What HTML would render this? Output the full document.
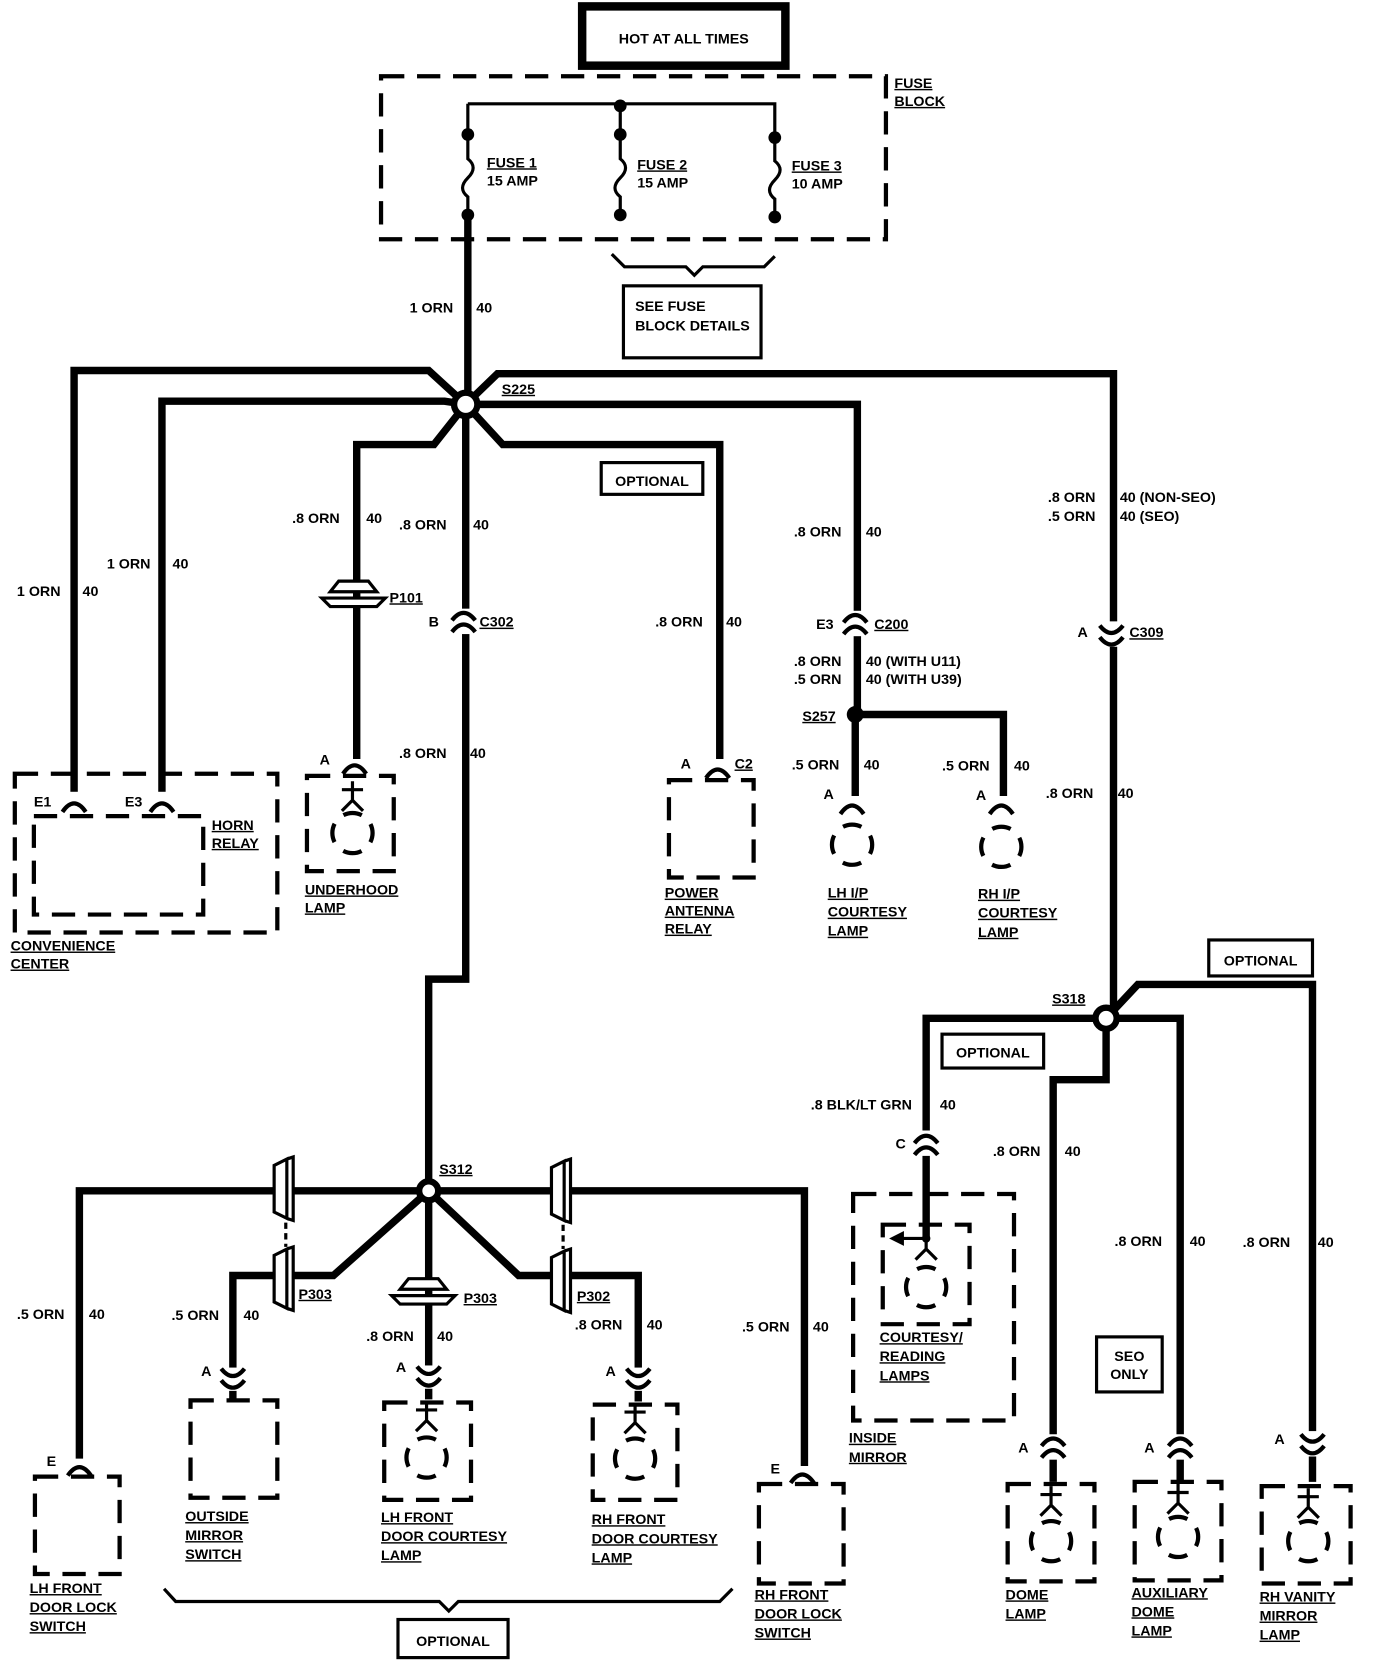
<!DOCTYPE html>
<html><head><meta charset="utf-8"><style>
html,body{margin:0;padding:0;background:#fff;}
svg{display:block;}
text{font-family:"Liberation Sans",sans-serif;font-weight:bold;font-size:13.5px;fill:#000;}
.u{text-decoration:underline;}
.w{fill:none;stroke:#000;stroke-width:7;stroke-linejoin:miter;}
.t{fill:none;stroke:#000;stroke-width:3;}
.d{fill:none;stroke:#000;stroke-width:4;stroke-dasharray:22 12;}
.c{fill:none;stroke:#000;stroke-width:4;}
</style></head><body>
<svg width="1376" height="1664" viewBox="0 0 1300 1572" xmlns="http://www.w3.org/2000/svg">
<defs>
<g id="fc"><path class="c" d="M-11,9 Q0,-7 11,9"/></g>
<g id="ic"><path class="c" d="M-11,-2 Q0,-16 11,-2"/><path class="c" d="M-11,9 Q0,-5 11,9"/></g>
<g id="icd"><path class="c" d="M-11,-9 Q0,5 11,-9"/><path class="c" d="M-11,2 Q0,16 11,2"/></g>
<g id="bulb"><circle r="19" fill="none" stroke="#000" stroke-width="4" stroke-dasharray="18 11.85" stroke-dashoffset="9"/></g>
<g id="pin"><path class="t" d="M0,-14 V4 M-10,-6 H10 M-10,14 L0,4 L10,14"/></g>
<g id="vp"><path fill="#fff" stroke="#000" stroke-width="3" d="M-6,-22 L6,-28 V28 L-6,22 Z M6,-28 L12,-30 V30 L6,28"/></g>
<g id="hp"><path fill="#fff" stroke="#000" stroke-width="3" d="M-22,-4 L-14,-14 H14 L22,-4 Z M-30,2 H30 L22,10 H-22 Z"/></g>
</defs>

<rect x="550" y="6" width="192" height="56" fill="none" stroke="#000" stroke-width="8"/>
<text x="646" y="41" text-anchor="middle">HOT AT ALL TIMES</text>

<rect x="360" y="72" width="477" height="154" class="d"/>
<text x="845" y="83" class="u">FUSE</text><text x="845" y="100" class="u">BLOCK</text>
<path class="t" d="M442,98 H732 V130 M442,98 V127 M586,98 V127"/>
<circle cx="586" cy="100" r="6"/><circle cx="442" cy="127" r="6"/><circle cx="586" cy="127" r="6"/><circle cx="732" cy="130" r="6"/>
<circle cx="442" cy="203" r="6"/><circle cx="586" cy="203" r="6"/><circle cx="732" cy="205" r="6"/>
<path class="t" d="M442,127 V150 Q452,158 442,168 Q432,178 442,186 V203"/>
<path class="t" d="M586,127 V150 Q596,158 586,168 Q576,178 586,186 V203"/>
<path class="t" d="M732,130 V152 Q742,160 732,170 Q722,180 732,188 V205"/>
<text x="460" y="158" class="u">FUSE 1</text><text x="460" y="175">15 AMP</text>
<text x="602" y="160" class="u">FUSE 2</text><text x="602" y="177">15 AMP</text>
<text x="748" y="161" class="u">FUSE 3</text><text x="748" y="178">10 AMP</text>
<path class="t" d="M578,240 L590,252 H648 L656,260 L664,252 H722 L732,242"/>
<rect x="589" y="270" width="130" height="68" fill="none" stroke="#000" stroke-width="3"/>
<text x="600" y="294">SEE FUSE</text><text x="600" y="312">BLOCK DETAILS</text>

<path class="w" d="M442,203 V382"/>
<text x="387" y="295">1 ORN</text><text x="450" y="295">40</text>

<path class="w" d="M440,382 L405,350 H70 V752"/>
<path class="w" d="M440,382 L420,379 H153 V752"/>
<path class="w" d="M440,382 L410,420 H337 V717"/>
<path class="w" d="M440,382 V925 H405 V1125"/>
<path class="w" d="M440,382 L475,420 H680 V717"/>
<path class="w" d="M440,382 H810 V675 M808,675 V752"/>
<path class="w" d="M808,675 H948 V752"/>
<path class="w" d="M440,382 L470,353 H1052 V962"/>
<circle cx="440" cy="382" r="11" fill="#fff" stroke="#000" stroke-width="6"/>
<text x="474" y="372" class="u">S225</text>

<text x="16" y="563">1 ORN</text><text x="78" y="563">40</text>
<text x="101" y="537">1 ORN</text><text x="163" y="537">40</text>
<text x="276" y="494">.8 ORN</text><text x="346" y="494">40</text>
<text x="377" y="500">.8 ORN</text><text x="447" y="500">40</text>
<text x="619" y="592">.8 ORN</text><text x="686" y="592">40</text>
<text x="750" y="507">.8 ORN</text><text x="818" y="507">40</text>
<text x="990" y="474">.8 ORN</text><text x="1058" y="474">40 (NON-SEO)</text>
<text x="990" y="492">.5 ORN</text><text x="1058" y="492">40 (SEO)</text>

<rect x="568" y="437" width="96" height="30" fill="none" stroke="#000" stroke-width="3"/>
<text x="616" y="459" text-anchor="middle">OPTIONAL</text>

<use href="#hp" x="334" y="563"/>
<text x="368" y="569" class="u">P101</text>
<rect x="428" y="575" width="22" height="24" fill="#fff"/>
<use href="#ic" x="438" y="588"/>
<text x="405" y="592">B</text><text x="453" y="592" class="u">C302</text>
<rect x="798" y="577" width="24" height="24" fill="#fff"/>
<use href="#ic" x="808" y="590"/>
<text x="771" y="594">E3</text><text x="826" y="594" class="u">C200</text>
<text x="750" y="629">.8 ORN</text><text x="818" y="629">40 (WITH U11)</text>
<text x="750" y="646">.5 ORN</text><text x="818" y="646">40 (WITH U39)</text>
<circle cx="808" cy="675" r="8"/>
<text x="758" y="681" class="u">S257</text>
<rect x="1040" y="587" width="24" height="24" fill="#fff"/>
<use href="#icd" x="1050" y="600"/>
<text x="1018" y="602">A</text><text x="1067" y="602" class="u">C309</text>

<rect x="14" y="731" width="248" height="150" class="d"/>
<rect x="32" y="771" width="160" height="93" class="d"/>
<rect x="62" y="748" width="18" height="14" fill="#fff"/><rect x="145" y="748" width="18" height="14" fill="#fff"/>
<use href="#fc" x="70" y="758"/><use href="#fc" x="153" y="758"/>
<text x="32" y="762">E1</text><text x="118" y="762">E3</text>
<text x="200" y="784" class="u">HORN</text><text x="200" y="801" class="u">RELAY</text>
<text x="10" y="898" class="u">CONVENIENCE</text><text x="10" y="915" class="u">CENTER</text>

<rect x="290" y="733" width="82" height="90" class="d"/>
<use href="#fc" x="335" y="722"/><text x="302" y="722">A</text>
<use href="#pin" x="333" y="752"/><use href="#bulb" x="333" y="787"/>
<text x="288" y="845" class="u">UNDERHOOD</text><text x="288" y="862" class="u">LAMP</text>
<text x="377" y="716">.8 ORN</text><text x="444" y="716">40</text>

<rect x="632" y="737" width="80" height="92" class="d"/>
<use href="#fc" x="678" y="726"/><text x="643" y="726">A</text><text x="694" y="726" class="u">C2</text>
<text x="628" y="848" class="u">POWER</text><text x="628" y="865" class="u">ANTENNA</text><text x="628" y="882" class="u">RELAY</text>

<text x="748" y="727">.5 ORN</text><text x="816" y="727">40</text>
<text x="890" y="728">.5 ORN</text><text x="958" y="728">40</text>
<use href="#fc" x="805" y="760"/><text x="778" y="755">A</text>
<use href="#fc" x="946" y="760"/><text x="922" y="756">A</text>
<use href="#bulb" x="805" y="798"/><use href="#bulb" x="946" y="800"/>
<text x="782" y="848" class="u">LH I/P</text><text x="782" y="866" class="u">COURTESY</text><text x="782" y="884" class="u">LAMP</text>
<text x="924" y="849" class="u">RH I/P</text><text x="924" y="867" class="u">COURTESY</text><text x="924" y="885" class="u">LAMP</text>
<text x="988" y="754">.8 ORN</text><text x="1056" y="754">40</text>

<path class="w" d="M1045,962 H875 V1170"/>
<path class="w" d="M1045,962 V1020 H995 V1400"/>
<path class="w" d="M1045,962 H1115 V1400"/>
<path class="w" d="M1045,962 L1075,930 H1240 V1400"/>
<circle cx="1045" cy="962" r="10" fill="#fff" stroke="#000" stroke-width="6"/>
<text x="994" y="948" class="u">S318</text>
<rect x="1142" y="888" width="98" height="34" fill="none" stroke="#000" stroke-width="3"/>
<text x="1191" y="912" text-anchor="middle">OPTIONAL</text>
<rect x="890" y="977" width="96" height="32" fill="none" stroke="#000" stroke-width="3"/>
<text x="938" y="999" text-anchor="middle">OPTIONAL</text>
<text x="766" y="1048">.8 BLK/LT GRN</text><text x="888" y="1048">40</text>
<rect x="864" y="1068" width="22" height="24" fill="#fff"/><use href="#ic" x="875" y="1082"/><text x="846" y="1085">C</text>
<rect x="806" y="1128" width="152" height="214" class="d"/>
<rect x="834" y="1157" width="82" height="94" class="d"/>
<circle cx="875" cy="1170" r="4"/>
<path class="t" d="M875,1170 H848"/><path d="M840,1170 L854,1163 V1177 Z"/>
<path class="t" d="M875,1170 V1180 M865,1190 L875,1180 L885,1190"/>
<use href="#bulb" x="875" y="1216"/>
<text x="831" y="1268" class="u">COURTESY/</text><text x="831" y="1286" class="u">READING</text><text x="831" y="1304" class="u">LAMPS</text>
<text x="802" y="1363" class="u">INSIDE</text><text x="802" y="1381" class="u">MIRROR</text>

<text x="938" y="1092">.8 ORN</text><text x="1006" y="1092">40</text>
<text x="1053" y="1177">.8 ORN</text><text x="1124" y="1177">40</text>
<text x="1174" y="1178">.8 ORN</text><text x="1245" y="1178">40</text>
<rect x="1036" y="1263" width="62" height="52" fill="none" stroke="#000" stroke-width="3"/>
<text x="1067" y="1286" text-anchor="middle">SEO</text><text x="1067" y="1303" text-anchor="middle">ONLY</text>

<rect x="984" y="1355" width="22" height="24" fill="#fff"/><use href="#ic" x="995" y="1368"/><text x="962" y="1372">A</text>
<rect x="1104" y="1355" width="22" height="24" fill="#fff"/><use href="#ic" x="1115" y="1368"/><text x="1081" y="1372">A</text>
<rect x="1229" y="1352" width="22" height="24" fill="#fff"/><use href="#icd" x="1240" y="1364"/><text x="1204" y="1364">A</text>
<rect x="952" y="1402" width="82" height="92" class="d"/>
<rect x="1072" y="1400" width="82" height="93" class="d"/>
<rect x="1192" y="1404" width="84" height="92" class="d"/>
<use href="#pin" x="993" y="1418"/><use href="#bulb" x="993" y="1456"/>
<use href="#pin" x="1113" y="1416"/><use href="#bulb" x="1113" y="1452"/>
<use href="#pin" x="1236" y="1420"/><use href="#bulb" x="1236" y="1456"/>
<text x="950" y="1511" class="u">DOME</text><text x="950" y="1529" class="u">LAMP</text>
<text x="1069" y="1509" class="u">AUXILIARY</text><text x="1069" y="1527" class="u">DOME</text><text x="1069" y="1545" class="u">LAMP</text>
<text x="1190" y="1513" class="u">RH VANITY</text><text x="1190" y="1531" class="u">MIRROR</text><text x="1190" y="1549" class="u">LAMP</text>

<path class="w" d="M405,1125 H75 V1378"/>
<path class="w" d="M405,1125 L315,1205 H220 V1297"/>
<path class="w" d="M405,1125 V1297"/>
<path class="w" d="M405,1125 L490,1205 H603 V1297"/>
<path class="w" d="M405,1125 H760 V1385"/>
<circle cx="405" cy="1125" r="9" fill="#fff" stroke="#000" stroke-width="6"/>
<text x="415" y="1109" class="u">S312</text>
<use href="#vp" x="265" y="1123"/><use href="#vp" x="265" y="1208"/>
<path class="t" d="M270,1155 V1178" stroke-dasharray="6 4"/>
<use href="#vp" x="527" y="1125"/><use href="#vp" x="527" y="1210"/>
<path class="t" d="M532,1157 V1180" stroke-dasharray="6 4"/>
<text x="282" y="1227" class="u">P303</text><text x="545" y="1229" class="u">P302</text>
<use href="#hp" x="400" y="1222"/><text x="438" y="1231" class="u">P303</text>

<text x="16" y="1246">.5 ORN</text><text x="84" y="1246">40</text>
<text x="162" y="1247">.5 ORN</text><text x="230" y="1247">40</text>
<text x="346" y="1267">.8 ORN</text><text x="413" y="1267">40</text>
<text x="543" y="1256">.8 ORN</text><text x="611" y="1256">40</text>
<text x="701" y="1258">.5 ORN</text><text x="768" y="1258">40</text>

<rect x="209" y="1292" width="22" height="24" fill="#fff"/><use href="#icd" x="220" y="1302"/><text x="190" y="1300">A</text>
<rect x="394" y="1290" width="22" height="24" fill="#fff"/><use href="#icd" x="405" y="1300"/><text x="374" y="1296">A</text>
<rect x="592" y="1292" width="22" height="24" fill="#fff"/><use href="#icd" x="603" y="1302"/><text x="572" y="1300">A</text>
<path class="w" d="M220,1314 V1324 M405,1312 V1322 M603,1314 V1324"/>

<rect x="33" y="1395" width="80" height="92" class="d"/>
<use href="#fc" x="75" y="1385"/><text x="44" y="1385">E</text>
<text x="28" y="1505" class="u">LH FRONT</text><text x="28" y="1523" class="u">DOOR LOCK</text><text x="28" y="1541" class="u">SWITCH</text>

<rect x="180" y="1323" width="82" height="92" class="d"/>
<text x="175" y="1437" class="u">OUTSIDE</text><text x="175" y="1455" class="u">MIRROR</text><text x="175" y="1473" class="u">SWITCH</text>

<rect x="363" y="1325" width="82" height="92" class="d"/>
<use href="#pin" x="403" y="1338"/><use href="#bulb" x="403" y="1377"/>
<text x="360" y="1438" class="u">LH FRONT</text><text x="360" y="1456" class="u">DOOR COURTESY</text><text x="360" y="1474" class="u">LAMP</text>

<rect x="560" y="1327" width="80" height="90" class="d"/>
<use href="#pin" x="600" y="1340"/><use href="#bulb" x="600" y="1378"/>
<text x="559" y="1440" class="u">RH FRONT</text><text x="559" y="1458" class="u">DOOR COURTESY</text><text x="559" y="1476" class="u">LAMP</text>

<rect x="717" y="1402" width="80" height="94" class="d"/>
<use href="#fc" x="758" y="1392"/><text x="728" y="1392">E</text>
<text x="713" y="1511" class="u">RH FRONT</text><text x="713" y="1529" class="u">DOOR LOCK</text><text x="713" y="1547" class="u">SWITCH</text>

<path class="t" d="M155,1501 L166,1513 H415 L424,1522 L433,1513 H680 L692,1501"/>
<rect x="376" y="1530" width="104" height="36" fill="none" stroke="#000" stroke-width="3"/>
<text x="428" y="1555" text-anchor="middle">OPTIONAL</text>
</svg>
</body></html>
